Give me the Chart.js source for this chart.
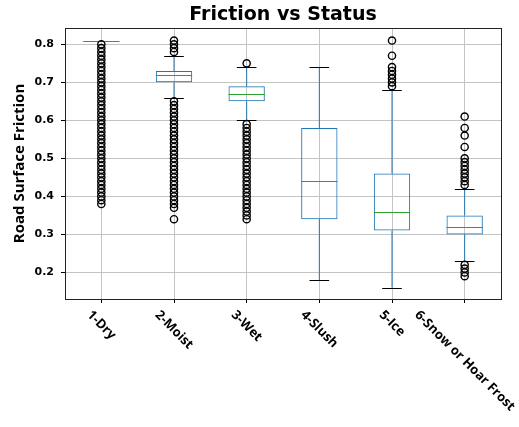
<!DOCTYPE html>
<html>
<head>
<meta charset="utf-8">
<script src="https://cdn.jsdelivr.net/npm/chart.js@4.4.1/dist/chart.umd.min.js"></script>
<style>
  body { margin: 0; background: #fff; }
  canvas { display: block; }
</style>
</head>
<body>
<canvas id="chart" width="519" height="427"></canvas>
<script>
const categories = ["1-Dry", "2-Moist", "3-Wet", "4-Slush", "5-Ice", "6-Snow or Hoar Frost"];
const q1 = [0.81, 0.70, 0.65, 0.34, 0.31, 0.30];
const q3 = [0.81, 0.73, 0.69, 0.58, 0.46, 0.35];
const medians = [0.81, 0.72, 0.67, 0.44, 0.36, 0.32];
const whiskerLow = [0.81, 0.66, 0.60, 0.18, 0.16, 0.23];
const whiskerHigh = [0.81, 0.77, 0.74, 0.74, 0.68, 0.42];
const outliers = [
  [0.38, 0.39, 0.40, 0.41, 0.42, 0.43, 0.44, 0.45, 0.46, 0.47, 0.48, 0.49, 0.50, 0.51,
   0.52, 0.53, 0.54, 0.55, 0.56, 0.57, 0.58, 0.59, 0.60, 0.61, 0.62, 0.63, 0.64, 0.65,
   0.66, 0.67, 0.68, 0.69, 0.70, 0.71, 0.72, 0.73, 0.74, 0.75, 0.76, 0.77, 0.78, 0.79, 0.80],
  [0.34, 0.37, 0.38, 0.39, 0.40, 0.41, 0.42, 0.43, 0.44, 0.45, 0.46, 0.47, 0.48, 0.49,
   0.50, 0.51, 0.52, 0.53, 0.54, 0.55, 0.56, 0.57, 0.58, 0.59, 0.60, 0.61, 0.62, 0.63,
   0.64, 0.65, 0.78, 0.79, 0.80, 0.81],
  [0.34, 0.35, 0.36, 0.37, 0.38, 0.39, 0.40, 0.41, 0.42, 0.43, 0.44, 0.45, 0.46, 0.47,
   0.48, 0.49, 0.50, 0.51, 0.52, 0.53, 0.54, 0.55, 0.56, 0.57, 0.58, 0.59, 0.75],
  [],
  [0.69, 0.70, 0.71, 0.72, 0.73, 0.74, 0.77, 0.81],
  [0.19, 0.20, 0.21, 0.22, 0.43, 0.44, 0.45, 0.46, 0.47, 0.48, 0.49, 0.50, 0.53, 0.56, 0.58, 0.61]
];
const yTicks = [0.2, 0.3, 0.4, 0.5, 0.6, 0.7, 0.8];

const BLUE = "#1f77b4";
const GREEN = "#2ca02c";
const FONT = "'DejaVu Sans', sans-serif";
const LABEL_FONT = "'Open Sans', sans-serif";

const outlierPoints = [];
outliers.forEach((vals, i) => {
  vals.forEach((v) => outlierPoints.push({ x: categories[i], y: v }));
});

const boxParts = {
  id: "boxParts",
  afterDatasetDraw(chart, args) {
    if (args.index !== 0) return;
    const { ctx } = chart;
    const x = chart.scales.x;
    const y = chart.scales.y;
    const step = x.getPixelForTick(1) - x.getPixelForTick(0);
    ctx.save();
    categories.forEach((c, i) => {
      const cx = x.getPixelForTick(i);
      // whiskers
      ctx.strokeStyle = BLUE;
      ctx.lineWidth = 1;
      ctx.beginPath();
      ctx.moveTo(cx, y.getPixelForValue(q3[i]));
      ctx.lineTo(cx, y.getPixelForValue(whiskerHigh[i]));
      ctx.moveTo(cx, y.getPixelForValue(q1[i]));
      ctx.lineTo(cx, y.getPixelForValue(whiskerLow[i]));
      ctx.stroke();
      // caps
      ctx.strokeStyle = "#000";
      ctx.beginPath();
      [whiskerHigh[i], whiskerLow[i]].forEach((v) => {
        const py = Math.round(y.getPixelForValue(v)) + 0.5;
        ctx.moveTo(cx - step * 0.135, py);
        ctx.lineTo(cx + step * 0.135, py);
      });
      ctx.stroke();
      // median
      ctx.strokeStyle = GREEN;
      ctx.beginPath();
      const my = Math.round(y.getPixelForValue(medians[i])) + 0.5;
      ctx.moveTo(cx - step * 0.25, my);
      ctx.lineTo(cx + step * 0.25, my);
      ctx.stroke();
    });
    ctx.restore();
  },
  afterDraw(chart) {
    const { ctx, chartArea } = chart;
    const x = chart.scales.x;
    ctx.save();
    // frame
    ctx.strokeStyle = "#222";
    ctx.lineWidth = 1;
    ctx.strokeRect(Math.round(chartArea.left) + 0.5, Math.round(chartArea.top) + 0.5,
      Math.round(chartArea.width), Math.round(chartArea.height));
    // title
    ctx.fillStyle = "#000";
    ctx.font = "bold 19px " + FONT;
    ctx.textAlign = "center";
    ctx.textBaseline = "alphabetic";
    ctx.fillText("Friction vs Status", (chartArea.left + chartArea.right) / 2, 20);
    // rotated category labels
    ctx.font = "bold 13px " + LABEL_FONT;
    ctx.textBaseline = "middle";
    const top = chartArea.bottom + 9;
    const h = 14;
    categories.forEach((c, i) => {
      const cx = x.getPixelForTick(i);
      const w = ctx.measureText(c).width;
      const bh = (w + h) * Math.SQRT1_2;
      ctx.save();
      ctx.translate(cx, top + bh / 2);
      ctx.rotate(Math.PI / 4);
      ctx.fillText(c, 0, 0);
      ctx.restore();
    });
    ctx.restore();
  }
};

new Chart(document.getElementById("chart"), {
  type: "bar",
  data: {
    labels: categories,
    datasets: [
      {
        type: "bar",
        data: categories.map((c, i) => [q1[i], q3[i]]),
        backgroundColor: "rgba(0,0,0,0)",
        borderColor: BLUE,
        borderWidth: 1,
        borderSkipped: false,
        barPercentage: 0.5,
        categoryPercentage: 1,
        order: 2
      },
      {
        type: "line",
        data: outlierPoints,
        showLine: false,
        pointStyle: "circle",
        pointRadius: 3.6,
        pointBorderWidth: 1.4,
        pointBorderColor: "#000",
        pointBackgroundColor: "rgba(0,0,0,0)",
        order: 1
      }
    ]
  },
  options: {
    responsive: false,
    animation: false,
    layout: { padding: { top: 28, right: 18, bottom: 124, left: 0 } },
    plugins: { legend: { display: false }, tooltip: { enabled: false } },
    scales: {
      x: {
        type: "category",
        offset: true,
        grid: { offset: false, color: "#c4c4c4", tickColor: "#000", tickLength: 4 },
        border: { display: false },
        ticks: { display: false }
      },
      y: {
        min: 0.13,
        max: 0.843,
        afterBuildTicks: (s) => { s.ticks = yTicks.map((v) => ({ value: v })); },
        afterFit: (s) => { s.width = 65; },
        grid: { color: "#c4c4c4", tickColor: "#000", tickLength: 4 },
        border: { display: false },
        ticks: {
          padding: 7,
          color: "#000",
          font: { family: FONT, size: 11, weight: "bold" },
          callback: (v) => v.toFixed(1)
        },
        title: {
          display: true,
          text: "Road Surface Friction",
          color: "#000",
          font: { family: LABEL_FONT, size: 15, weight: "bold" },
          padding: { top: 11, bottom: 0 }
        }
      }
    }
  },
  plugins: [boxParts]
});
</script>
</body>
</html>
